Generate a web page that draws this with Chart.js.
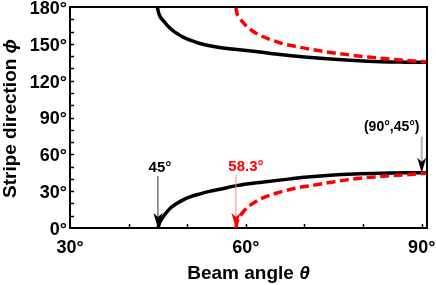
<!DOCTYPE html>
<html>
<head>
<meta charset="utf-8">
<script src="https://cdn.jsdelivr.net/npm/chart.js@4.4.1/dist/chart.umd.min.js"></script>
<style>
  body { margin: 0; background: #fff; }
  #wrap { width: 436px; height: 285px; position: relative; }
</style>
</head>
<body>
<div id="wrap"><canvas id="chart"></canvas></div>
<script>
// beam angle theta (deg) and stripe direction phi (deg)
const blackLowTheta = [45, 45.3, 45.9, 46.5, 47.1, 48.2, 49.3, 50.6, 52.2, 53.8, 55.6, 58.2, 60.5, 62.7, 66.1, 70, 74.4, 78.5, 82.9, 87, 90.9];
const blackLowPhi   = [0, 4.5, 9.2, 12.9, 16.1, 19.9, 22.9, 25.5, 27.8, 29.8, 31.6, 34.3, 36, 37.3, 39.2, 41.3, 43.0, 44.0, 44.6, 44.9, 45];

const blackHighTheta = [44.9, 45.1, 45.4, 46, 46.5, 47.5, 48.5, 49.3, 50.5, 52, 55, 58.5, 62.4, 65.8, 70, 74.4, 78.5, 82.9, 87, 90.9];
const blackHighPhi   = [180, 175.5, 172, 168.5, 165.5, 161, 157.7, 155.5, 153, 150.5, 147.4, 145.3, 143.3, 141.3, 139.3, 137.6, 136.4, 135.5, 135.1, 134.9];

const redLowTheta = [58.3, 58.5, 59.2, 59.8, 60.4, 61.5, 62.7, 65.5, 68.4, 71.5, 74.5, 77.2, 80, 82.9, 86, 88.6, 90.9];
const redLowPhi   = [0, 5, 11, 14.5, 17.4, 21, 24.2, 28.8, 32.4, 34.8, 37.2, 39.2, 40.8, 41.9, 43, 43.8, 44.8];

const redHighTheta = [58.3, 58.45, 58.8, 59.4, 60.2, 61.2, 62.4, 64, 66, 70, 74.4, 78, 82.9, 86.5, 90.9];
const redHighPhi   = [180, 175.5, 172, 168, 164, 160.3, 157, 153.8, 150.5, 146.5, 143, 140.8, 138.3, 136.8, 135.2];

const xTickLabels = [30, 60, 90];
const yTickLabels = [0, 30, 60, 90, 120, 150, 180];

const annoText  = ['45°', '58.3°', '(90°,45°)'];
const annoTheta = [45, 58.3, 90];
const annoPhi   = [0, 0, 45];

function pts(xs, ys) {
    return xs.map((v, i) => ({ x: v, y: ys[i] }));
}

const FONT = "'Liberation Sans', Arial, 'DejaVu Sans', sans-serif";

function drawArrow(ctx, px, yTop, yTip, lineColor, lineWidth, headColor) {
    ctx.strokeStyle = lineColor;
    ctx.lineWidth = lineWidth;
    ctx.beginPath();
    ctx.moveTo(px, yTop);
    ctx.lineTo(px, yTip - 8);
    ctx.stroke();
    ctx.fillStyle = headColor;
    ctx.beginPath();
    ctx.moveTo(px - 4.5, yTip - 15);
    ctx.lineTo(px, yTip - 11);
    ctx.lineTo(px + 4.5, yTip - 15);
    ctx.lineTo(px, yTip);
    ctx.closePath();
    ctx.fill();
}

const decor = {
    id: 'decor',
    afterDatasetsDraw(chart) {
        const { ctx, scales: { x, y } } = chart;
        // label offset from arrow tip, arrow length, colours
        const style = [
            { dx: 2, dy: -60, len: 52, color: '#000', line: '#333', lw: 1, size: 15 },
            { dx: 10, dy: -61, len: 53, color: '#ff0000', line: '#ff8a8a', lw: 1, size: 15 },
            { dx: -30, dy: -46, len: 36, color: '#000', line: '#b5b5b5', lw: 2, size: 14 }
        ];
        ctx.save();
        annoText.forEach((t, i) => {
            const s = style[i];
            const px = x.getPixelForValue(annoTheta[i]);
            const py = y.getPixelForValue(annoPhi[i]);
            drawArrow(ctx, px, py - s.len, py, s.line, s.lw, s.color);
            ctx.fillStyle = s.color;
            ctx.font = 'bold ' + s.size + 'px ' + FONT;
            ctx.textAlign = 'center';
            ctx.textBaseline = 'middle';
            ctx.fillText(t, px + s.dx, py + s.dy);
        });
        ctx.restore();
    },
    afterDraw(chart) {
        const { ctx, chartArea: a, scales: { x, y } } = chart;
        ctx.save();
        // box on top and right
        ctx.strokeStyle = '#000';
        ctx.lineWidth = 2;
        ctx.beginPath();
        ctx.moveTo(a.left, a.top);
        ctx.lineTo(a.right, a.top);
        ctx.lineTo(a.right, a.bottom);
        ctx.stroke();
        // inward ticks every 10 deg
        ctx.lineWidth = 1.5;
        ctx.beginPath();
        for (let v = 40; v <= 90; v += 10) {
            const px = Math.round(x.getPixelForValue(v)) + 0.5;
            ctx.moveTo(px, a.bottom);
            ctx.lineTo(px, a.bottom - 4);
        }
        for (let v = 10; v < 180; v += 10) {
            const py = Math.round(y.getPixelForValue(v)) + 0.5;
            ctx.moveTo(a.left, py);
            ctx.lineTo(a.left + 4, py);
        }
        ctx.stroke();

        // axis titles with italic greek letters
        ctx.fillStyle = '#000';
        ctx.textBaseline = 'middle';
        const bold = 'bold 19px ' + FONT;
        const ital = 'bold italic 19px ' + FONT;

        ctx.font = bold;
        const xa = 'Beam angle ';
        const wa = ctx.measureText(xa).width;
        ctx.font = ital;
        const wb = ctx.measureText('θ').width;
        let sx = (a.left + a.right) / 2 - (wa + wb) / 2;
        ctx.textAlign = 'left';
        ctx.font = bold;
        ctx.fillText(xa, sx, 274);
        ctx.font = ital;
        ctx.fillText('θ', sx + wa, 274);

        ctx.translate(11, (a.top + a.bottom) / 2 + 1);
        ctx.rotate(-Math.PI / 2);
        ctx.font = bold;
        const ya = 'Stripe direction ';
        const ha = ctx.measureText(ya).width;
        ctx.font = ital;
        const hb = ctx.measureText('ϕ').width;
        sx = -(ha + hb) / 2;
        ctx.font = bold;
        ctx.fillText(ya, sx, 0);
        ctx.font = ital;
        ctx.fillText('ϕ', sx + ha, 0);
        ctx.restore();
    }
};

const lineBase = {
    showLine: true,
    pointRadius: 0,
    borderWidth: 3.5,
    fill: false,
    cubicInterpolationMode: 'monotone'
};

new Chart(document.getElementById('chart'), {
    type: 'scatter',
    data: {
        datasets: [
            Object.assign({ data: pts(redLowTheta, redLowPhi), borderColor: '#ff0000', borderDash: [9, 4.5] }, lineBase),
            Object.assign({ data: pts(redHighTheta, redHighPhi), borderColor: '#ff0000', borderDash: [9, 4.5] }, lineBase),
            Object.assign({ data: pts(blackLowTheta, blackLowPhi), borderColor: '#000' }, lineBase),
            Object.assign({ data: pts(blackHighTheta, blackHighPhi), borderColor: '#000' }, lineBase)
        ]
    },
    options: {
        responsive: true,
        maintainAspectRatio: false,
        animation: false,
        layout: { padding: { top: 7, right: 9, left: 0, bottom: 0 } },
        plugins: { legend: { display: false }, tooltip: { enabled: false } },
        scales: {
            x: {
                type: 'linear',
                min: 30,
                max: 90.9,
                afterFit: s => { s.height = 57; s.paddingLeft = 0; s.paddingRight = 0; },
                afterBuildTicks: s => { s.ticks = xTickLabels.map(v => ({ value: v })); },
                grid: { display: false, drawTicks: false },
                border: { display: true, color: '#000', width: 2 },
                ticks: {
                    padding: 9,
                    color: '#000',
                    font: { family: FONT, size: 18, weight: 'bold' },
                    callback: v => v + '°',
                    maxRotation: 0
                }
            },
            y: {
                type: 'linear',
                min: 0,
                max: 180,
                afterFit: s => { s.width = 70; s.paddingTop = 0; s.paddingBottom = 0; },
                afterBuildTicks: s => { s.ticks = yTickLabels.map(v => ({ value: v })); },
                grid: { display: false, drawTicks: false },
                border: { display: true, color: '#000', width: 2 },
                ticks: {
                    padding: 3,
                    labelOffset: 2,
                    color: '#000',
                    font: { family: FONT, size: 18, weight: 'bold' },
                    callback: v => v + '°'
                }
            }
        }
    },
    plugins: [decor]
});
</script>
</body>
</html>
